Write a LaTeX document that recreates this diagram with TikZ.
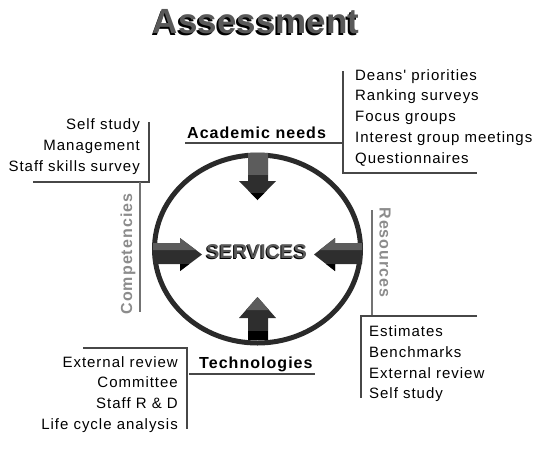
\documentclass[tikz,border=0pt]{standalone}
\usepackage{fontspec}
\setmainfont{Liberation Sans}
\newfontfamily\listfont[LetterSpace=6.5]{Liberation Sans}
\usetikzlibrary{positioning}

\definecolor{ringgray}{HTML}{2A2A2A}
\definecolor{facelight}{HTML}{5C5C5C}
\definecolor{facedark}{HTML}{2E2E2E}
\definecolor{titlegray}{HTML}{595959}

\tikzset{
  listitem/.style={font=\listfont\fontsize{15}{18}\selectfont, inner sep=0pt},
  heading/.style={font=\listfont\bfseries\fontsize{16}{19}\selectfont, inner sep=0pt},
  sidehead/.style={heading, text=black!45},
  bracket/.style={draw=black!72, line width=1.6pt},
  sideline/.style={draw=black!55, line width=1.8pt},
  arrowdark/.style={fill=facedark},
  arrowlight/.style={fill=facelight},
  arrowdeep/.style={fill=black},
}

\begin{document}
\begin{tikzpicture}
    \useasboundingbox (0,0) rectangle (543pt,-461pt);

    % Title
    \node (titleshadow) at (254.2pt,-35pt) [anchor=base, inner sep=0pt, font=\bfseries\fontsize{35}{40}\selectfont] {Assessment};
    \node (title) at (256pt,-33pt) [anchor=base, inner sep=0pt, text=titlegray, font=\bfseries\fontsize{35}{40}\selectfont] {Assessment};

    % Ring
    \draw[ringgray, line width=5pt] (257.5pt,-249pt) ellipse (103pt and 94pt);

    %% Arrows
    % top, pointing down
    \fill[arrowdark] (248pt,-153pt) -- (268pt,-153pt) -- (268pt,-181pt) -- (276pt,-181pt)
        -- (257.5pt,-200pt) -- (239pt,-181pt) -- (248pt,-181pt) -- cycle;
    \fill[arrowlight] (248pt,-153pt) rectangle (268pt,-175pt);
    \fill[arrowdeep] (250.7pt,-193pt) -- (264.3pt,-193pt) -- (257.5pt,-200pt) -- cycle;

    % bottom, pointing up
    \fill[arrowdark] (248pt,-340pt) -- (268pt,-340pt) -- (268pt,-318pt) -- (276pt,-318pt)
        -- (257.5pt,-297pt) -- (239pt,-318pt) -- (248pt,-318pt) -- cycle;
    \fill[arrowlight] (246pt,-310pt) -- (269pt,-310pt) -- (257.5pt,-297pt) -- cycle;
    \fill[arrowdeep] (248pt,-331pt) rectangle (268pt,-340pt);

    % left, pointing right
    \fill[arrowdark] (153pt,-243pt) -- (180pt,-243pt) -- (180pt,-238pt) -- (202pt,-254.5pt)
        -- (180pt,-271pt) -- (180pt,-264pt) -- (153pt,-264pt) -- cycle;
    \fill[arrowlight] (153pt,-243pt) -- (180pt,-243pt) -- (180pt,-238pt) -- (196pt,-250pt) -- (153pt,-250pt) -- cycle;
    \fill[arrowdeep] (180pt,-264pt) -- (180pt,-271pt) -- (189.3pt,-264pt) -- cycle;

    % right, pointing left
    \fill[arrowdark] (362pt,-243pt) -- (335pt,-243pt) -- (335pt,-238pt) -- (314pt,-254.5pt)
        -- (335pt,-271pt) -- (335pt,-264pt) -- (362pt,-264pt) -- cycle;
    \fill[arrowlight] (362pt,-243pt) -- (335pt,-243pt) -- (335pt,-238pt) -- (319.7pt,-250pt) -- (362pt,-250pt) -- cycle;
    \fill[arrowdeep] (335pt,-264pt) -- (335pt,-271pt) -- (326.1pt,-264pt) -- cycle;

    % Centre label
    \node (servshadow) at (255.5pt,-259pt) [anchor=base, inner sep=0pt, font=\bfseries\fontsize{20}{24}\selectfont] {SERVICES};
    \node (services) at (256.5pt,-258pt) [anchor=base, inner sep=0pt, text=titlegray, font=\bfseries\fontsize{20}{24}\selectfont] {SERVICES};

    %%%%%%%%%%%%%%%%%%%%%%%%%%
    % Academic needs
    \node (acadneeds) at (187pt,-138pt) [heading, anchor=base west] {Academic needs};
    \coordinate (acStart) at (185pt,-143pt);
    \coordinate (acTop) at (343pt,-71pt);
    \coordinate (acFoot) at (343pt,-173pt);
    \coordinate (acEnd) at (477pt,-173pt);
    \draw[bracket] (acStart) -- (acStart -| acTop);
    \draw[bracket] (acTop) -- (acFoot) -- (acEnd);

    \node (deans) at (355pt,-80pt) [listitem, anchor=base west] {Deans' priorities};
    \node (ranking) at (355pt,-100.75pt) [listitem, anchor=base west] {Ranking surveys};
    \node (focus) at (355pt,-121.5pt) [listitem, anchor=base west] {Focus groups};
    \node (interest) at (355pt,-142.25pt) [listitem, anchor=base west] {Interest group meetings};
    \node (quest) at (355pt,-163pt) [listitem, anchor=base west] {Questionnaires};

    %%%%%%%%%%%%%%%%%%%%%%%%%%
    % Competencies
    \coordinate (coTop) at (149pt,-122pt);
    \coordinate (coCorner) at (149pt,-182pt);
    \coordinate (coEnd) at (33pt,-182pt);
    \coordinate (coSideTop) at (140pt,-182pt);
    \coordinate (coSideFoot) at (140pt,-312pt);
    \draw[bracket] (coTop) -- (coCorner) -- (coEnd);
    \draw[sideline] (coSideTop) -- (coSideFoot);
    \node (compet) at (128pt,-254pt) [sidehead, rotate=90] {Competencies};

    \node (selfstudy) at (140pt,-129pt) [listitem, anchor=base east] {Self study};
    \node (manage) at (140pt,-150pt) [listitem, anchor=base east] {Management};
    \node (skills) at (140pt,-171pt) [listitem, anchor=base east] {Staff skills survey};

    %%%%%%%%%%%%%%%%%%%%%%%%%%
    % Resources
    \coordinate (reSideTop) at (372pt,-210pt);
    \coordinate (reSideFoot) at (372pt,-316pt);
    \coordinate (reEnd) at (477pt,-316pt);
    \coordinate (reCorner) at (361pt,-316pt);
    \coordinate (reFoot) at (361pt,-398pt);
    \draw[sideline] (reSideTop) -- (reSideFoot);
    \draw[bracket] (reEnd) -- (reCorner) -- (reFoot);
    \node (resources) at (385pt,-252.5pt) [sidehead, rotate=-90] {Resources};

    \node (estim) at (369pt,-336pt) [listitem, anchor=base west] {Estimates};
    \node (bench) at (369pt,-357pt) [listitem, anchor=base west] {Benchmarks};
    \node (extrev) at (369pt,-378pt) [listitem, anchor=base west] {External review};
    \node (selfstudyb) at (369pt,-398.5pt) [listitem, anchor=base west] {Self study};

    %%%%%%%%%%%%%%%%%%%%%%%%%%
    % Technologies
    \node (techno) at (199pt,-368pt) [heading, anchor=base west] {Technologies};
    \coordinate (teEnd) at (83pt,-348pt);
    \coordinate (teCorner) at (187pt,-348pt);
    \coordinate (teFoot) at (187pt,-429pt);
    \coordinate (teStart) at (189pt,-374pt);
    \coordinate (teStop) at (315pt,-374pt);
    \draw[bracket] (teEnd) -- (teCorner) -- (teFoot);
    \draw[bracket] (teStart) -- (teStop);

    \node (extrevb) at (178pt,-367pt) [listitem, anchor=base east] {External review};
    \node (committee) at (178pt,-387.7pt) [listitem, anchor=base east] {Committee};
    \node (staffrd) at (178pt,-408.3pt) [listitem, anchor=base east] {Staff R \& D};
    \node (lifecycle) at (178pt,-429pt) [listitem, anchor=base east] {Life cycle analysis};
\end{tikzpicture}
\end{document}
